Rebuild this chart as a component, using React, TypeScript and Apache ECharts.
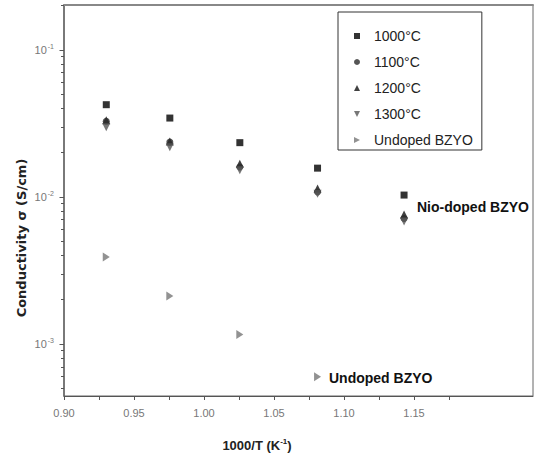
import React, { useEffect, useRef } from "react";
import * as echarts from "echarts";

// 1000/T values (K^-1)
const X_VALUES = [0.9302, 0.9756, 1.0256, 1.0811, 1.1429];
// Conductivity (S/cm)
const S1000 = [0.0424, 0.0344, 0.0234, 0.0157, 0.0103];
const S1100 = [0.0327, 0.0236, 0.016, 0.0108, 0.00713];
const S1200 = [0.0333, 0.0238, 0.0168, 0.0114, 0.0076];
const S1300 = [0.0298, 0.0218, 0.0152, 0.0105, 0.00682];
const UNDOPED = [0.00391, 0.00212, 0.00116, 0.0006];

const SERIES_NAMES = ["1000°C", "1100°C", "1200°C", "1300°C", "Undoped BZYO"];

const X_MIN = 0.9;
const X_MAX = 1.235;
const X_LABEL_VALUES = [0.9, 0.95, 1.0, 1.05, 1.1, 1.15];
const X_TICK_VALUES = [0.9, 0.925, 0.95, 0.975, 1.0, 1.025, 1.05, 1.075, 1.1, 1.125, 1.15, 1.175];

const Y_MIN = 0.000443;
const Y_MAX = 0.202;
const Y_MAJOR_VALUES = [0.001, 0.01, 0.1];
const Y_MINOR_VALUES = [
  0.0005, 0.0006, 0.0007, 0.0008, 0.0009,
  0.002, 0.003, 0.004, 0.005, 0.006, 0.007, 0.008, 0.009,
  0.02, 0.03, 0.04, 0.05, 0.06, 0.07, 0.08, 0.09,
  0.2,
];

const DOWN_TRIANGLE = "path://M0,0L10,0L5,10Z";
const RIGHT_TRIANGLE = "path://M0,0L10,5L0,10Z";

export default function App() {
  const ref = useRef<HTMLDivElement>(null);

  useEffect(() => {
    const chart = echarts.init(ref.current as HTMLDivElement, null, { renderer: "svg" });
    const pairs = (ys: number[]) => ys.map((y, i) => [X_VALUES[i], y]);
    const lgMin = Math.log10(Y_MIN);
    const lgMax = Math.log10(Y_MAX);

    const tickAxis = (values: number[], len: number) => ({
      type: "value",
      min: lgMin,
      max: lgMax,
      position: "left",
      gridIndex: 0,
      axisLine: { show: false },
      axisLabel: { show: false },
      splitLine: { show: false },
      axisTick: {
        show: true,
        customValues: values.map((v) => Math.log10(v)),
        length: len,
        lineStyle: { color: "#555", width: 1 },
      },
    });

    chart.setOption({
      animation: false,
      backgroundColor: "#ffffff",
      grid: {
        left: 64,
        right: 4,
        top: 5,
        bottom: 60,
        show: true,
        borderColor: "#666",
        borderWidth: 1,
        backgroundColor: "transparent",
      },
      xAxis: [
        {
          type: "value",
          min: X_MIN,
          max: X_MAX,
          axisLine: { show: true, onZero: false, lineStyle: { color: "#555", width: 1 } },
          axisTick: {
            show: true,
            customValues: X_TICK_VALUES,
            length: 4,
            lineStyle: { color: "#555" },
          },
          axisLabel: {
            customValues: X_LABEL_VALUES,
            formatter: (v: number) => v.toFixed(2),
            color: "#777",
            fontSize: 11,
            margin: 11,
            fontFamily: "Liberation Sans",
          },
          splitLine: { show: false },
        },
        {
          type: "value",
          min: X_MIN,
          max: X_MAX,
          position: "top",
          axisLine: { show: true, onZero: false, lineStyle: { color: "#888", width: 2 } },
          axisTick: { show: false },
          axisLabel: { show: false },
          splitLine: { show: false },
        },
      ],
      yAxis: [
        {
          type: "log",
          min: Y_MIN,
          max: Y_MAX,
          logBase: 10,
          axisLine: { show: true, onZero: false, lineStyle: { color: "#666", width: 1.5 } },
          axisTick: { show: false },
          splitLine: { show: false },
          axisLabel: {
            showMinLabel: false,
            showMaxLabel: false,
            margin: 10,
            formatter: (v: number) => {
              const e = Math.round(Math.log10(v));
              return "{b|10}{s|" + e + "}";
            },
            rich: {
              b: { fontSize: 11, color: "#777", fontFamily: "Liberation Sans", lineHeight: 14 },
              s: { fontSize: 7, color: "#777", fontFamily: "Liberation Sans", verticalAlign: "top", lineHeight: 14, padding: [0, 0, 6, 1] },
            },
          },
        },
        tickAxis(Y_MAJOR_VALUES, 4.5),
        tickAxis(Y_MINOR_VALUES, 3),
      ],
      legend: {
        orient: "vertical",
        left: 338,
        top: 12,
        padding: [17, 9, 3, 16],
        itemWidth: 6,
        itemHeight: 6,
        itemGap: 12,
        borderColor: "#333",
        borderWidth: 1,
        textStyle: {
          fontSize: 14,
          fontFamily: "Liberation Sans",
          color: "#222",
          lineHeight: 14,
          padding: [0, 0, 0, 9],
        },
        data: SERIES_NAMES,
      },
      series: [
        {
          name: SERIES_NAMES[0],
          type: "scatter",
          symbol: "rect",
          symbolSize: 7,
          itemStyle: { color: "#000" },
          data: pairs(S1000),
        },
        {
          name: SERIES_NAMES[2],
          type: "scatter",
          symbol: "triangle",
          symbolSize: 8,
          itemStyle: { color: "#111" },
          data: pairs(S1200),
        },
        {
          name: SERIES_NAMES[1],
          type: "scatter",
          symbol: "circle",
          symbolSize: 7,
          itemStyle: { color: "#2a2a2a" },
          data: pairs(S1100),
        },
        {
          name: SERIES_NAMES[3],
          type: "scatter",
          symbol: DOWN_TRIANGLE,
          symbolSize: 8,
          itemStyle: { color: "#555" },
          data: pairs(S1300),
        },
        {
          name: SERIES_NAMES[4],
          type: "scatter",
          symbol: RIGHT_TRIANGLE,
          symbolSize: [7, 9],
          itemStyle: { color: "#777" },
          data: pairs(UNDOPED),
        },
      ],
      graphic: [
        {
          type: "text",
          x: 21,
          y: 238,
          rotation: Math.PI / 2,
          style: {
            text: "Conductivity σ (S/cm)",
            font: 'bold 13px "DejaVu Sans"',
            fill: "#222",
            align: "center",
            verticalAlign: "middle",
            textAlign: "center",
            textVerticalAlign: "middle",
          },
        },
        {
          type: "text",
          x: 257,
          y: 445,
          style: {
            text: "{n|1000/T (K}{s|-1}{n|)}",
            rich: {
              n: { font: 'bold 13px "Liberation Sans"', fill: "#222", lineHeight: 16 },
              s: { font: 'bold 8px "Liberation Sans"', fill: "#222", verticalAlign: "top", lineHeight: 16, padding: [0, 0, 7, 0] },
            },
            align: "center",
            verticalAlign: "middle",
            textAlign: "center",
            textVerticalAlign: "middle",
          },
        },
        {
          type: "text",
          x: 417,
          y: 207,
          style: {
            text: "Nio-doped BZYO",
            font: 'bold 14px "Liberation Sans"',
            fill: "#111",
            align: "left",
            verticalAlign: "middle",
            textAlign: "left",
            textVerticalAlign: "middle",
          },
        },
        {
          type: "text",
          x: 329,
          y: 378,
          style: {
            text: "Undoped BZYO",
            font: 'bold 14px "Liberation Sans"',
            fill: "#111",
            align: "left",
            verticalAlign: "middle",
            textAlign: "left",
            textVerticalAlign: "middle",
          },
        },
      ],
    });

    return () => chart.dispose();
  }, []);

  return (
    <div
      ref={ref}
      style={{ position: "absolute", left: 0, top: 0, width: 537, height: 456 }}
    />
  );
}
